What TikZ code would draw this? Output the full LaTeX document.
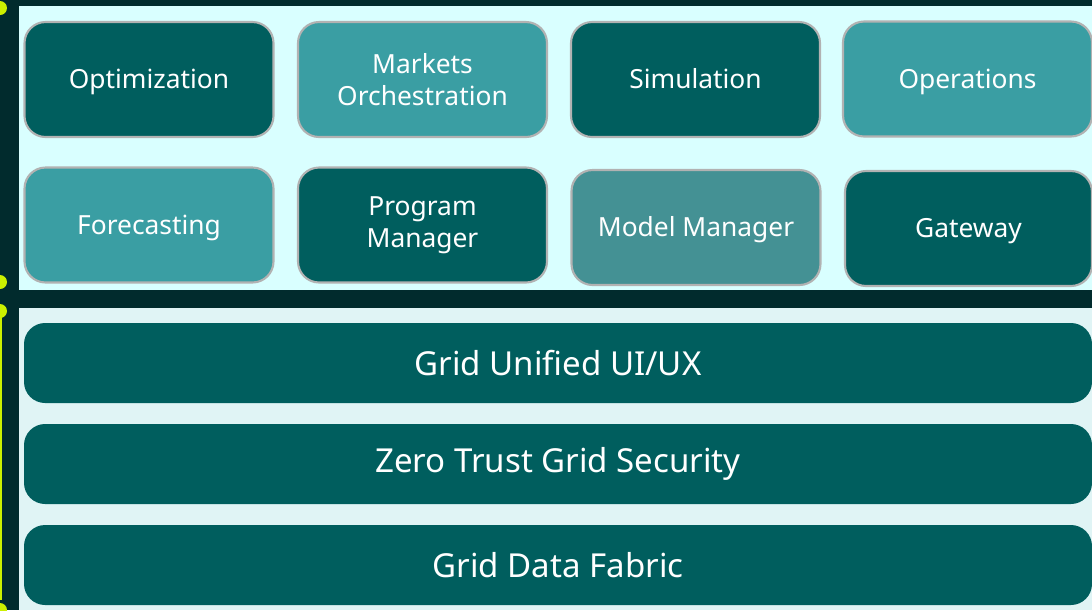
\documentclass[tikz,border=0pt]{standalone}
\usepackage{fontspec}
\setmainfont{Noto Sans}
\usepackage{xcolor}

\definecolor{bgdark}{HTML}{012B2D}
\definecolor{panelhi}{HTML}{D9FFFF}
\definecolor{panello}{HTML}{E0F4F5}
\definecolor{tealdark}{HTML}{005E5E}
\definecolor{teallight}{HTML}{3A9EA3}
\definecolor{tealmid}{HTML}{449194}
\definecolor{lime}{HTML}{CCF000}

\tikzset{
  module/.style={draw=gray!60, line width=1.2pt, rounded corners=12pt, text=white,
    minimum width=249*0.02cm, minimum height=115*0.02cm, align=center,
    font=\fontsize{15}{18}\selectfont},
  oneline/.style={text height=10.7pt, text depth=0pt},
  layer/.style={rounded corners=12pt, fill=tealdark, text=white,
    minimum width=1068*0.02cm, minimum height=80*0.02cm,
    font=\fontsize{18.8}{20}\selectfont},
}

\begin{document}
\begin{tikzpicture}[x=0.02cm,y=-0.02cm]
\useasboundingbox (0,0) rectangle (1092,610);
\fill[bgdark] (0,0) rectangle (1092,610);
\fill[panelhi] (19,6) rectangle (1092,290);
\fill[panello] (19,308) rectangle (1092,610);
% side markers
\draw[lime, line width=1.2pt] (0.5,311) -- (0.5,600);
\fill[lime] (0,8) circle (7);
\fill[lime] (0,282) circle (7);
\fill[lime] (0,311) circle (7);
\fill[lime] (0,610) circle (7);

% top row
\node[module, oneline, fill=tealdark](opt) at (149,79.5){Optimization};
\node[module, fill=teallight](mkt) at (422.5,79.5){Markets\\Orchestration};
\node[module, oneline, fill=tealdark](sim) at (695.5,79.5){Simulation};
\node[module, oneline, fill=teallight](ops) at (967.5,79){Operations};
% second row
\node[module, oneline, fill=teallight](fc) at (149,225){Forecasting};
\node[module, fill=tealdark](pm) at (422.5,225){Program\\Manager};
\node[module, oneline, fill=tealmid](mm) at (696,227.5){Model Manager};
\node[module, oneline, fill=tealdark, minimum width=247*0.02cm](gw) at (968.5,228.5){Gateway};

% layers
\node[layer](ui) at (558,363){Grid Unified UI/UX};
\node[layer](sec) at (558,464){Zero Trust Grid Security};
\node[layer](fab) at (558,565){Grid Data Fabric};
\end{tikzpicture}
\end{document}
